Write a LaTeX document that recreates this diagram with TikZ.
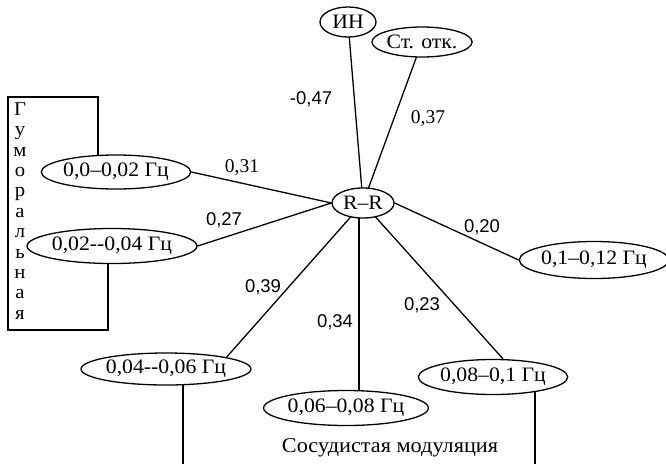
\documentclass[tikz,border=0pt]{standalone}
\usepackage{fontspec}
\setmainfont{Liberation Serif}[FakeStretch=1.06]
\newfontfamily\lserif{Liberation Serif}
\newfontfamily\lsans{Liberation Sans}
\usetikzlibrary{shapes.geometric,backgrounds}
\tikzset{
  ov/.style={ellipse, draw, line width=1.3pt, fill=white, inner sep=0pt, font=\fontsize{20.5}{24}\selectfont},
  edge/.style={line width=1.3pt},
  lab/.style={anchor=base, inner sep=0pt, font=\lsans\fontsize{18.5}{20}\selectfont},
  labs/.style={anchor=base, inner sep=0pt, font=\lserif\fontsize{19.5}{22}\selectfont},
  vword/.style={inner sep=0pt, align=center, font=\fontsize{19.5}{20.4}\selectfont},
  ttl/.style={inner sep=0pt, font=\fontsize{21}{24}\selectfont},
}
\begin{document}
\begin{tikzpicture}[x=1pt,y=-1pt]
\useasboundingbox (0,0) rectangle (666,464);
% nodes
\node[ov, minimum width=56pt, minimum height=30pt] (IN) at (348,22) {ИН};
\node[ov, minimum width=93pt, minimum height=30pt] (ST) at (422,42) {Ст. отк.};
\node[ov, minimum width=62pt, minimum height=30pt] (RR) at (363,203) {R–R};
\node[ov, minimum width=145pt, minimum height=34pt] (f1) at (116,172) {0,0–0,02 Гц};
\node[ov, minimum width=147pt, minimum height=35pt] (f2) at (112,246) {0,02-{}-0,04 Гц};
\node[ov, minimum width=147pt, minimum height=32pt] (f3) at (166,369) {0,04-{}-0,06 Гц};
\node[ov, minimum width=145pt, minimum height=35pt] (f4) at (346,408) {0,06–0,08 Гц};
\node[ov, minimum width=146pt, minimum height=35pt] (f5) at (493,377) {0,08–0,1 Гц};
\node[ov, minimum width=142pt, minimum height=37pt] (f6) at (594,260) {0,1–0,12 Гц};
% helper coordinates
\coordinate (v0) at (359,300);
\coordinate (v1) at (183,464);
\coordinate (v2) at (535,464);
\coordinate (g1) at (98,150);
\coordinate (g2) at (108,300);
\coordinate (gtl) at (8,97);
\coordinate (gbl) at (8,330);
% connectors
\begin{scope}[on background layer]
\draw[edge] (IN.center) -- (RR.center);
\draw[edge] (ST.center) -- (RR.center);
\draw[edge] (f1.east) -- (RR.west);
\draw[edge] (f2.east) -- (RR.west);
\draw[edge] (f3.north east) -- (RR.center);
\draw[edge] (RR.center -| v0) -- (f4.center -| v0);
\draw[edge] (RR.center) -- ([xshift=10pt]f5.north);
\draw[edge] (RR.east) -- (f6.west);
\draw[edge] (f3.center -| v1) -- (v1);
\draw[edge] (f5.center -| v2) -- (v2);
\draw[edge] (f1.center -| g1) |- (gtl) -- (gbl) -| (f2.center -| g2);
\end{scope}
% labels
\node[lab] (l1) at (311,104) {-0,47};
\node[labs] (l2) at (428,123) {0,37};
\node[labs] (l3) at (242,172) {0,31};
\node[lab] (l4) at (224,225) {0,27};
\node[lab] (l5) at (263,292) {0,39};
\node[lab] (l6) at (335,327) {0,34};
\node[lab] (l7) at (422,310) {0,23};
\node[lab] (l8) at (482,232) {0,20};
% vertical word
\node[vword] (gum) at (20,211) {Г\\у\\м\\о\\р\\а\\л\\ь\\н\\а\\я};
\node[ttl] (sm) at (390,448) {Сосудистая модуляция};
\end{tikzpicture}
\end{document}
